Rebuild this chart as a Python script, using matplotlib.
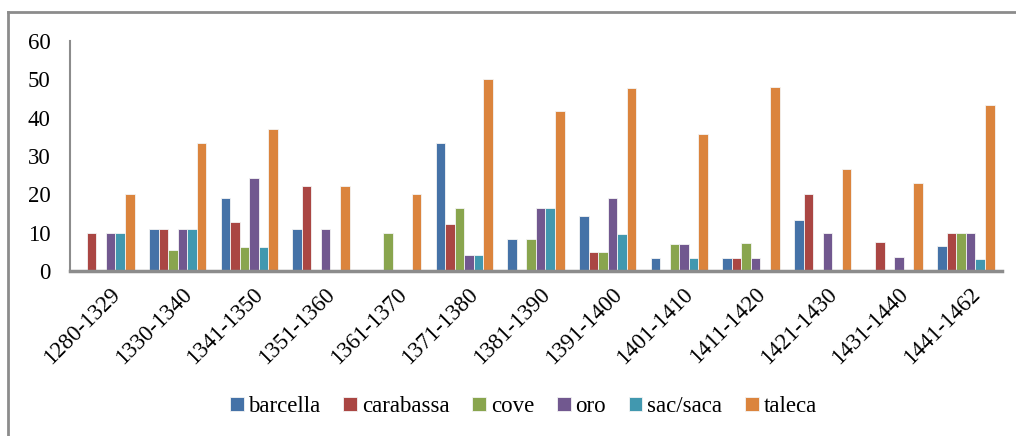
import numpy as np
import matplotlib.pyplot as plt
from matplotlib.lines import Line2D

plt.rcParams['font.family'] = ['Liberation Serif', 'DejaVu Serif']

periods = ['1280-1329', '1330-1340', '1341-1350', '1351-1360', '1361-1370',
           '1371-1380', '1381-1390', '1391-1400', '1401-1410', '1411-1420',
           '1421-1430', '1431-1440', '1441-1462']

barcella  = [0, 11.1, 19.2, 11.1, 0, 33.3, 8.3, 14.3, 3.5, 3.5, 13.3, 0, 6.6]
carabassa = [10, 11.1, 12.8, 22.3, 0, 12.4, 0, 4.9, 0, 3.5, 20.0, 7.7, 10]
cove      = [0, 5.5, 6.3, 0, 10, 16.6, 8.3, 4.9, 7.1, 7.4, 0, 0, 10]
oro       = [10, 11.1, 24.3, 11.1, 0, 4.2, 16.6, 19.0, 7.1, 3.5, 10, 3.8, 10]
sac_saca  = [10, 11.1, 6.3, 0, 0, 4.2, 16.6, 9.6, 3.5, 0, 0, 0, 3.3]
taleca    = [20, 33.3, 37.1, 22.3, 20, 50.0, 41.7, 47.7, 35.7, 48.1, 26.7, 23.0, 43.4]

series = [('barcella', barcella, '#4572A7'),
          ('carabassa', carabassa, '#AA4643'),
          ('cove', cove, '#89A54E'),
          ('oro', oro, '#71588F'),
          ('sac/saca', sac_saca, '#4198AF'),
          ('taleca', taleca, '#DB843D')]

fig = plt.figure(figsize=(10.16, 4.36), dpi=100)
ax = fig.add_axes([0.069, 0.378, 0.917, 0.528])

x = np.arange(len(periods))
w = 0.133
for i, (name, vals, col) in enumerate(series):
    ax.bar(x + (i - 2.5) * w, vals, w, color=col, label=name,
           edgecolor='#f4f4f4', linewidth=0.6)

ax.set_xlim(-0.5, len(periods) - 0.5)
ax.set_ylim(0, 60)
ax.set_yticks(range(0, 61, 10))
ax.set_xticks(x + 0.05)
ax.set_xticklabels(periods, rotation=45, ha='right', va='top',
                   rotation_mode='anchor')
ax.tick_params(axis='y', length=0, pad=14, labelsize=16.5)
ax.tick_params(axis='x', length=0, pad=9, labelsize=16.5)

for s in ['top', 'right']:
    ax.spines[s].set_visible(False)
ax.spines['left'].set_color('#8c8c8c')
ax.spines['left'].set_linewidth(1.5)
ax.spines['bottom'].set_color('#8c8c8c')
ax.spines['bottom'].set_linewidth(2.5)

fig.legend(loc='center', bbox_to_anchor=(0.515, 0.067), ncol=6, frameon=False,
           fontsize=16.5, handlelength=0.6, handleheight=0.6,
           handletextpad=0.2, columnspacing=1.0)

# outer chart border
fig.add_artist(Line2D([0.008, 0.008], [0, 0.972], color='#8c8c8c', lw=2))
fig.add_artist(Line2D([0.008, 1.0], [0.972, 0.972], color='#8c8c8c', lw=2))

fig.savefig('out.png', dpi=100)
